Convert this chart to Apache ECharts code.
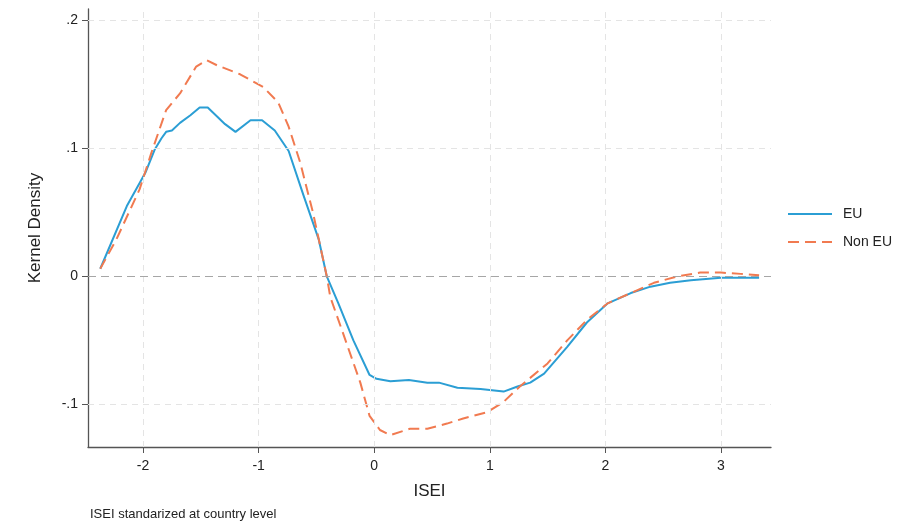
<!DOCTYPE html>
<html>
<head>
<meta charset="utf-8">
<script src="https://cdn.jsdelivr.net/npm/echarts@6/dist/echarts.min.js"></script>
<style>
  html, body { margin: 0; padding: 0; background: #fff; }
  #chart { width: 912px; height: 525px; }
</style>
</head>
<body>
<div id="chart"></div>
<script>
// Kernel density difference curves by ISEI (standardized at country level)
const euX = [-2.37, -2.14, -1.98, -1.90, -1.84, -1.80, -1.75, -1.68, -1.59, -1.51, -1.44, -1.29, -1.20, -1.07, -0.97, -0.86, -0.74, -0.61, -0.48, -0.41, -0.31, -0.18, -0.04, 0.02, 0.14, 0.30, 0.46, 0.56, 0.72, 0.92, 1.12, 1.24, 1.35, 1.47, 1.67, 1.84, 2.02, 2.22, 2.39, 2.56, 2.74, 3.00, 3.20, 3.33];
const euY = [0.006, 0.055, 0.081, 0.099, 0.108, 0.113, 0.114, 0.120, 0.126, 0.132, 0.132, 0.119, 0.113, 0.122, 0.122, 0.114, 0.098, 0.063, 0.029, 0.000, -0.021, -0.050, -0.077, -0.080, -0.082, -0.081, -0.083, -0.083, -0.087, -0.088, -0.090, -0.086, -0.083, -0.076, -0.055, -0.036, -0.021, -0.013, -0.008, -0.005, -0.003, -0.001, -0.001, -0.001];

const nonEuX = [-2.37, -2.23, -2.03, -1.93, -1.80, -1.68, -1.54, -1.45, -1.36, -1.16, -0.96, -0.83, -0.74, -0.64, -0.53, -0.41, -0.38, -0.24, -0.12, -0.04, 0.05, 0.14, 0.31, 0.46, 0.63, 0.77, 0.98, 1.12, 1.26, 1.50, 1.67, 1.84, 2.02, 2.22, 2.42, 2.62, 2.82, 3.00, 3.17, 3.33];
const nonEuY = [0.006, 0.029, 0.068, 0.096, 0.130, 0.143, 0.164, 0.169, 0.165, 0.158, 0.148, 0.136, 0.117, 0.089, 0.050, 0.000, -0.016, -0.052, -0.083, -0.109, -0.120, -0.124, -0.119, -0.119, -0.115, -0.111, -0.106, -0.098, -0.086, -0.068, -0.050, -0.034, -0.021, -0.013, -0.005, 0.000, 0.003, 0.003, 0.002, 0.001];

const xTicks = [-2, -1, 0, 1, 2, 3];
const yTicks = [-0.1, 0, 0.1, 0.2];
const yTickLabels = ['-.1', '0', '.1', '.2'];

const seriesNames = ['EU', 'Non EU'];
const noteText = 'ISEI standarized at country level';

const pairs = (xs, ys) => xs.map((x, i) => [x, ys[i]]);

const FONT = 'Liberation Sans, Arial, sans-serif';
const gridLineStyle = { color: '#e4e4e4', type: [6, 5], width: 1 };

const gridMarks = [
  ...xTicks.map(v => ({ xAxis: v, lineStyle: gridLineStyle })),
  ...yTicks.filter(v => v !== 0).map(v => ({ yAxis: v, lineStyle: gridLineStyle })),
  { yAxis: 0, lineStyle: { color: '#a6a6a6', type: [8, 5], width: 1 } }
];

const chart = echarts.init(document.getElementById('chart'), null, { renderer: 'canvas' });

chart.setOption({
  animation: false,
  backgroundColor: '#ffffff',
  grid: { left: 88, top: 9, width: 683, height: 438, containLabel: false },
  xAxis: {
    type: 'value',
    min: -2.476,
    max: 3.433,
    name: 'ISEI',
    nameLocation: 'middle',
    nameGap: 36,
    nameTextStyle: { fontFamily: FONT, fontSize: 17, color: '#222' },
    axisLine: { onZero: false, lineStyle: { color: '#555', width: 1.3 } },
    axisTick: { show: true, customValues: xTicks, length: 6, lineStyle: { color: '#555' } },
    axisLabel: {
      customValues: xTicks,
      margin: 12,
      fontFamily: FONT, fontSize: 14, color: '#222',
      formatter: v => String(v)
    },
    splitLine: { show: false }
  },
  yAxis: {
    type: 'value',
    min: -0.1333,
    max: 0.209,
    name: 'Kernel Density',
    nameLocation: 'middle',
    nameGap: 44,
    nameRotate: 90,
    nameTextStyle: { fontFamily: FONT, fontSize: 17, color: '#222' },
    axisLine: { show: true, onZero: false, lineStyle: { color: '#555', width: 1.3 } },
    axisTick: { show: true, customValues: yTicks, length: 6, lineStyle: { color: '#555' } },
    axisLabel: {
      customValues: yTicks,
      margin: 10,
      fontFamily: FONT, fontSize: 14, color: '#222',
      formatter: v => {
        const i = yTicks.findIndex(t => Math.abs(t - v) < 1e-9);
        return i >= 0 ? yTickLabels[i] : '';
      }
    },
    splitLine: { show: false }
  },
  legend: {
    orient: 'vertical',
    left: 787,
    top: 207,
    padding: 0,
    itemWidth: 44,
    itemHeight: 14,
    itemGap: 14,
    itemStyle: { opacity: 0, borderWidth: 0 },
    textStyle: { fontFamily: FONT, fontSize: 14, color: '#222', padding: [0, 0, 0, 6] },
    data: seriesNames
  },
  graphic: [{
    type: 'text',
    left: 90,
    top: 508,
    style: { text: noteText, font: '13px ' + FONT, fill: '#222' }
  }],
  series: [
    {
      name: 'grid',
      type: 'line',
      data: [],
      silent: true,
      markLine: { silent: true, symbol: 'none', label: { show: false }, data: gridMarks },
      z: 1
    },
    {
      name: seriesNames[0],
      type: 'line',
      data: pairs(euX, euY),
      showSymbol: false,
      symbol: 'none',
      color: '#2b9ed4',
      lineStyle: { color: '#2b9ed4', width: 2 },
      z: 3
    },
    {
      name: seriesNames[1],
      type: 'line',
      data: pairs(nonEuX, nonEuY),
      showSymbol: false,
      symbol: 'none',
      color: '#f17a50',
      lineStyle: { color: '#f17a50', width: 2, type: [11, 6] },
      z: 4
    }
  ]
});
</script>
</body>
</html>
